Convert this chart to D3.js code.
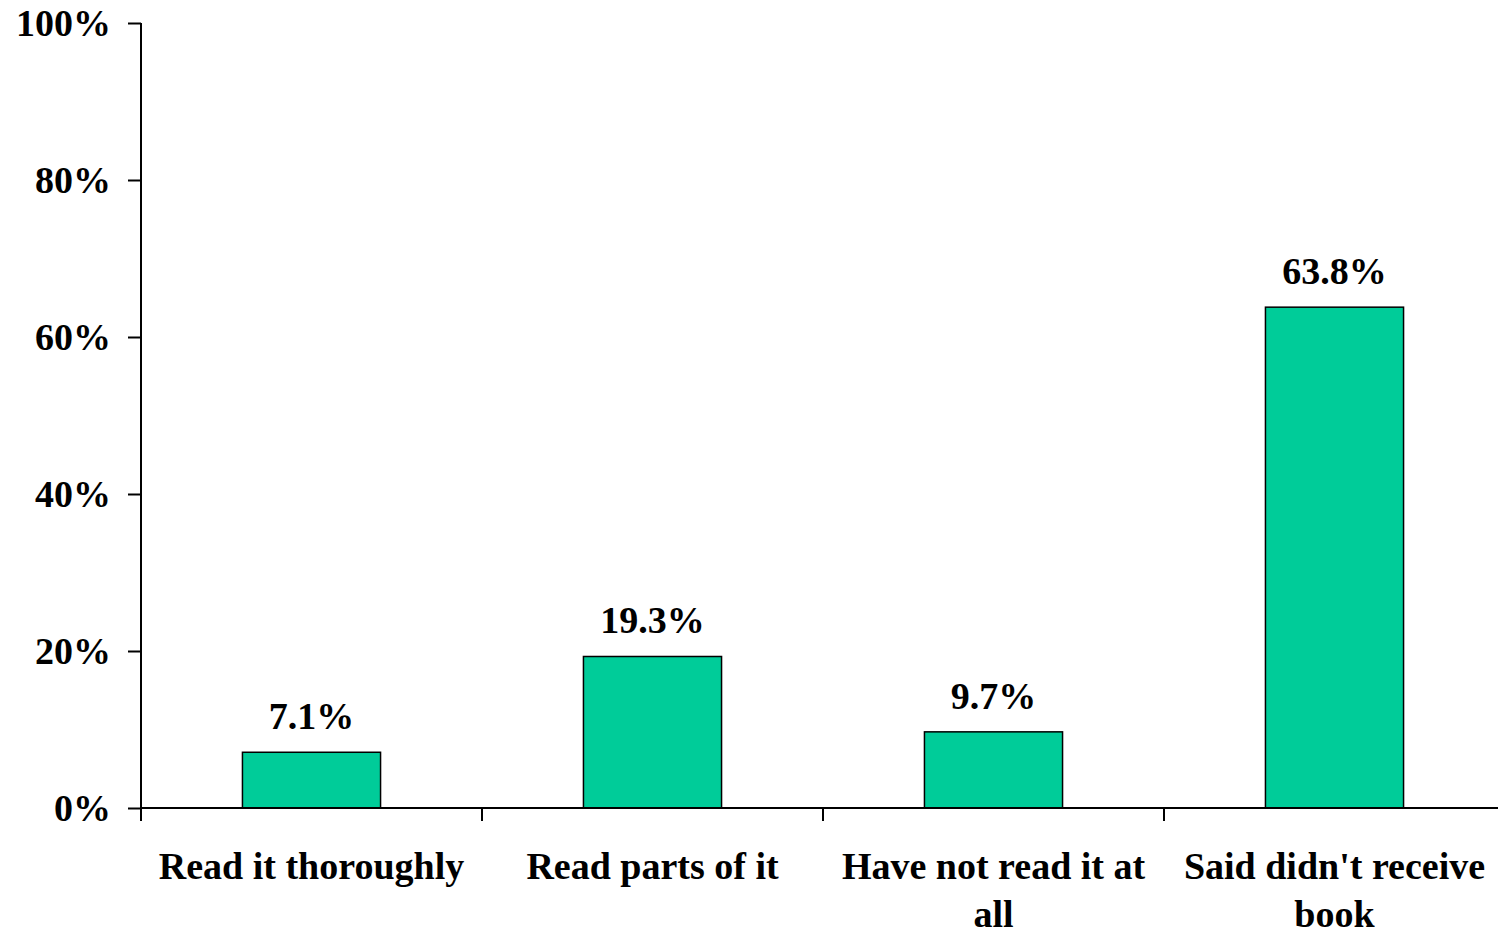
<!DOCTYPE html>
<html>
<head>
<meta charset="utf-8">
<script src="https://cdn.jsdelivr.net/npm/d3@7"></script>
<style>
  html, body { margin: 0; padding: 0; background: #fff; }
  svg { display: block; font-family: "Liberation Serif", "Times New Roman", serif; font-weight: bold; }
</style>
</head>
<body>
<svg id="chart" width="1498" height="935"></svg>
<script>
// Survey responses: how respondents used the book
const categories = [["Read it thoroughly"], ["Read parts of it"], ["Have not read it at", "all"], ["Said didn't receive", "book"]];
const values = [7.1, 19.3, 9.7, 63.8];
const valueLabels = ["7.1%", "19.3%", "9.7%", "63.8%"];
const yTicks = [0, 20, 40, 60, 80, 100];

const svg = d3.select("#chart");
const plotLeft = 141, plotRight = 1505, plotTop = 23, plotBottom = 808;
const fontSize = 38;

const x = d3.scaleBand().domain(d3.range(categories.length)).range([plotLeft, plotRight]).padding(0);
const y = d3.scaleLinear().domain([0, 100]).range([plotBottom, plotTop]);
const barW = x.bandwidth() * 0.405;

// Bars
svg.append("g").selectAll("rect").data(values).join("rect")
  .attr("x", (d, i) => x(i) + x.bandwidth() / 2 - barW / 2)
  .attr("y", d => y(d))
  .attr("width", barW)
  .attr("height", d => y(0) - y(d))
  .attr("fill", "#00CC99")
  .attr("stroke", "#000")
  .attr("stroke-width", 1.5);

// Value labels
svg.append("g").selectAll("text").data(values).join("text")
  .attr("x", (d, i) => x(i) + x.bandwidth() / 2)
  .attr("y", d => y(d) - 23)
  .attr("text-anchor", "middle")
  .attr("font-size", fontSize)
  .text((d, i) => valueLabels[i]);

// Y axis
const yAxis = d3.axisLeft(y).tickValues(yTicks).tickFormat(d => d + "%").tickSize(13).tickPadding(17);
const gy = svg.append("g").attr("transform", `translate(${plotLeft},0)`).call(yAxis);
gy.select(".domain").attr("d", `M0,${plotTop}V${plotBottom + 12}`).attr("stroke", "#000").attr("stroke-width", 2);
gy.selectAll(".tick line").attr("stroke", "#000").attr("stroke-width", 2);
gy.selectAll(".tick text").attr("font-size", fontSize).attr("font-family", "Liberation Serif").attr("font-weight", "bold").attr("fill", "#000");

// X axis
const gx = svg.append("g").attr("transform", `translate(0,${plotBottom})`);
gx.append("line").attr("x1", plotLeft).attr("x2", 1498).attr("y1", 0).attr("y2", 0)
  .attr("stroke", "#000").attr("stroke-width", 2);
gx.selectAll("line.tick").data(d3.range(categories.length)).join("line")
  .attr("class", "tick")
  .attr("x1", i => x(i)).attr("x2", i => x(i))
  .attr("y1", 0).attr("y2", 13)
  .attr("stroke", "#000").attr("stroke-width", 2);

const labels = gx.selectAll("text").data(categories).join("text")
  .attr("text-anchor", "middle")
  .attr("font-size", fontSize)
  .attr("transform", (d, i) => `translate(${x(i) + x.bandwidth() / 2},71)`);
labels.selectAll("tspan").data(d => d).join("tspan")
  .attr("x", 0)
  .attr("dy", (d, j) => j === 0 ? 0 : 48)
  .text(d => d);
</script>
</body>
</html>
